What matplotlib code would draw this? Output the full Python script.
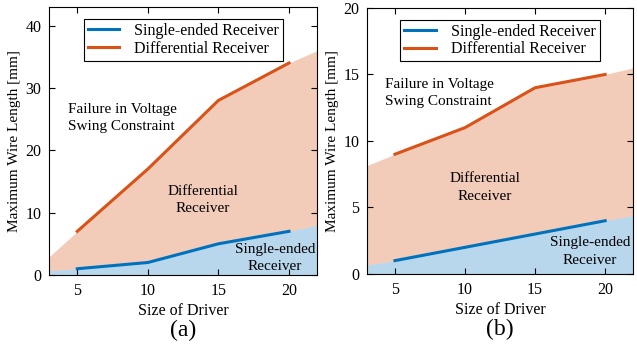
import numpy as np
import matplotlib.pyplot as plt

plt.rcParams['font.family'] = ['Liberation Serif', 'DejaVu Serif']

# driver sizes
driver = [5, 10, 15, 20]

# panel (a)
single_a = [1, 2, 5, 7]
diff_a = [7, 17, 28, 34]
# panel (b)
single_b = [1, 2, 3, 4]
diff_b = [9, 11, 14, 15]

# shaded region boundaries (extended to the axes edges)
edge_x = [3, 5, 10, 15, 20, 22]
single_fill_a = [0.7, 1, 2, 5, 7, 8]
diff_fill_a = [2.9, 7, 17, 28, 34, 36]
single_fill_b = [0.68, 1, 2, 3, 4, 4.4]
diff_fill_b = [8.15, 9, 11, 14, 15, 15.5]

BLUE = '#0072BD'
ORANGE = '#D95319'


def panel(ax, single, diff, sfill, dfill, ymax, yticks, label, txt):
    ax.fill_between(edge_x, 0, sfill, color=BLUE, alpha=0.28, lw=0)
    ax.fill_between(edge_x, sfill, dfill, color=ORANGE, alpha=0.3, lw=0)
    ax.plot(driver, single, color=BLUE, lw=2.2, label='Single-ended Receiver')
    ax.plot(driver, diff, color=ORANGE, lw=2.2, label='Differential Receiver')
    ax.set_xlim(3, 22)
    ax.set_ylim(0, ymax)
    ax.set_xticks(driver)
    ax.set_yticks(yticks)
    ax.tick_params(direction='in', top=True, right=True, labelsize=11.5,
                   length=4, pad=5.5)
    ax.set_xlabel('Size of Driver', fontsize=11.5, labelpad=3)
    ax.set_ylabel('Maximum Wire Length [mm]', fontsize=11, labelpad=3)
    leg = ax.legend(loc='upper center', fontsize=11.5, fancybox=False,
                    edgecolor='black', framealpha=1, borderpad=0.25,
                    handlelength=2.0, labelspacing=0.1, handletextpad=0.9,
                    borderaxespad=0, bbox_to_anchor=(0.5, 0.955))
    leg.get_frame().set_linewidth(0.8)
    (fx, fy), (dx, dy), (sx, sy) = txt
    ax.text(fx, fy, 'Failure in Voltage\nSwing Constraint', fontsize=11,
            ha='left', va='center', linespacing=1.45)
    ax.text(dx, dy, 'Differential\nReceiver', fontsize=11, ha='center',
            va='center', linespacing=1.45)
    ax.text(sx, sy, 'Single-ended\nReceiver', fontsize=11, ha='center',
            va='center', linespacing=1.45)
    ax.text(0.5, -0.228, label, transform=ax.transAxes, fontsize=17,
            ha='center', va='baseline')


fig = plt.figure(figsize=(6.37, 3.45), dpi=100)
ax1 = fig.add_axes([0.077, 0.203, 0.421, 0.777])
ax2 = fig.add_axes([0.576, 0.206, 0.418, 0.771])

panel(ax1, single_a, diff_a, single_fill_a, diff_fill_a, 43, [0, 10, 20, 30, 40],
      '(a)', [(4.35, 25.2), (13.9, 12), (19, 2.7)])
panel(ax2, single_b, diff_b, single_fill_b, diff_fill_b, 20, [0, 5, 10, 15, 20],
      '(b)', [(4.3, 13.6), (11.4, 6.5), (18.9, 1.7)])

fig.savefig('out.png', dpi=100)
